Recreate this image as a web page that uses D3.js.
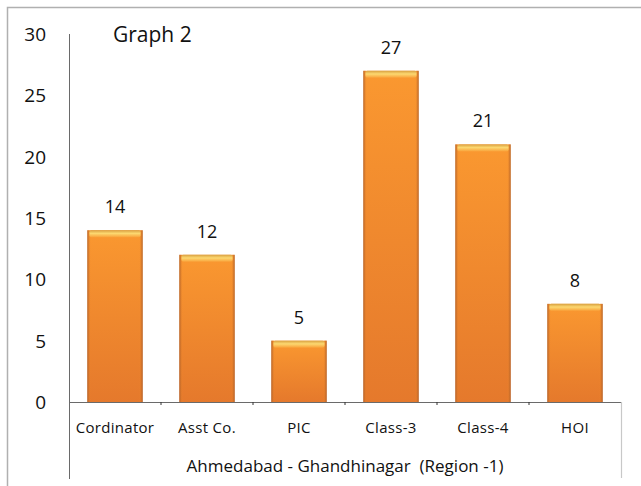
<!DOCTYPE html>
<html><head><meta charset="utf-8">
<script src="https://cdn.jsdelivr.net/npm/d3@7"></script>
<style>
html,body{margin:0;padding:0;background:#fff;}
svg{display:block;}
text{font-family:"Open Sans","Noto Sans",sans-serif;fill:#111;}
</style></head>
<body>
<script>
const categories = ["Cordinator","Asst Co.","PIC","Class-3","Class-4","HOI"];
const values = [14,12,5,27,21,8];
const yTicks = [0,5,10,15,20,25,30];
const chartTitle = "Graph 2";
const axisTitle = "Ahmedabad - Ghandhinagar  (Region -1)";

const W = 641, H = 486;
const svg = d3.select("body").append("svg").attr("width",W).attr("height",H);
const defs = svg.append("defs");
const g1 = defs.append("linearGradient").attr("id","barGrad").attr("x1",0).attr("y1",0).attr("x2",0).attr("y2",1);
g1.append("stop").attr("offset","0%").attr("stop-color","#FA9830");
g1.append("stop").attr("offset","100%").attr("stop-color","#E5792C");
const g2 = defs.append("linearGradient").attr("id","sideGrad").attr("x1",0).attr("y1",0).attr("x2",1).attr("y2",0);
g2.append("stop").attr("offset","0%").attr("stop-color","#A85A28").attr("stop-opacity",0.9);
g2.append("stop").attr("offset","6%").attr("stop-color","#F08A2C").attr("stop-opacity",0);
g2.append("stop").attr("offset","94%").attr("stop-color","#F08A2C").attr("stop-opacity",0);
g2.append("stop").attr("offset","100%").attr("stop-color","#A85A28").attr("stop-opacity",0.9);
const g3 = defs.append("linearGradient").attr("id","topGrad").attr("x1",0).attr("y1",0).attr("x2",0).attr("y2",1);
g3.append("stop").attr("offset","0%").attr("stop-color","#D9A040");
g3.append("stop").attr("offset","45%").attr("stop-color","#FCD870");
g3.append("stop").attr("offset","100%").attr("stop-color","#F9A23A");

// frame
svg.append("path").attr("d","M7.5,486 V7.5 H641").attr("fill","none").attr("stroke","#b0b0b0").attr("stroke-width",1.5);

const x = d3.scaleBand().domain(categories).range([69,621]).paddingInner(0.4).paddingOuter(0.2);
const y = d3.scaleLinear().domain([0,30]).range([402,34]);

// y axis
const yAxis = d3.axisLeft(y).tickValues(yTicks).tickSize(0).tickPadding(23);
const ya = svg.append("g").attr("transform","translate(69,0)").call(yAxis);
ya.select(".domain").remove();
ya.selectAll("text").style("font-size","19px").attr("fill","#111").attr("dy","0.35em");
svg.append("line").attr("x1",69.5).attr("x2",69.5).attr("y1",y(30)).attr("y2",479).attr("stroke","#6a6a6a").attr("stroke-width",1);

// bars
const bars = svg.append("g").selectAll("g").data(values).join("g");
bars.append("rect").attr("x",(d,i)=>x(categories[i])).attr("y",d=>y(d))
  .attr("width",x.bandwidth()).attr("height",d=>y(0)-y(d)).attr("fill","url(#barGrad)");
bars.append("rect").attr("x",(d,i)=>x(categories[i])).attr("y",d=>y(d))
  .attr("width",x.bandwidth()).attr("height",d=>y(0)-y(d)).attr("fill","url(#sideGrad)");
bars.append("rect").attr("x",(d,i)=>x(categories[i])+2).attr("y",d=>y(d))
  .attr("width",x.bandwidth()-4).attr("height",7).attr("rx",2).attr("fill","url(#topGrad)");
bars.append("text").attr("x",(d,i)=>x(categories[i])+x.bandwidth()/2).attr("y",d=>y(d)-17)
  .attr("text-anchor","middle").style("font-size","18px").text(d=>d);

// x axis
svg.append("line").attr("x1",69).attr("x2",621).attr("y1",402.5).attr("y2",402.5).attr("stroke","#6a6a6a").attr("stroke-width",1);
const bounds = d3.range(categories.length+1).map(i=>x.range()[0] + i*((x.range()[1]-x.range()[0])/categories.length));
svg.append("g").selectAll("line").data(bounds.slice(1,-1)).join("line")
  .attr("x1",d=>d).attr("x2",d=>d).attr("y1",402).attr("y2",405).attr("stroke","#333");
svg.append("line").attr("x1",621.5).attr("x2",621.5).attr("y1",402).attr("y2",478).attr("stroke","#c8c8c8").attr("stroke-width",1.2);

svg.append("g").selectAll("text").data(categories).join("text")
  .attr("x",d=>x(d)+x.bandwidth()/2).attr("y",433).attr("text-anchor","middle")
  .style("font-size","15px").style("letter-spacing","0.3px").text(d=>d);

svg.append("text").attr("x",345).attr("y",472).attr("text-anchor","middle").style("font-size","17px").style("white-space","pre").text(axisTitle);
svg.append("text").attr("x",113).attr("y",42).style("font-size","21px").text(chartTitle);
</script>
</body></html>
